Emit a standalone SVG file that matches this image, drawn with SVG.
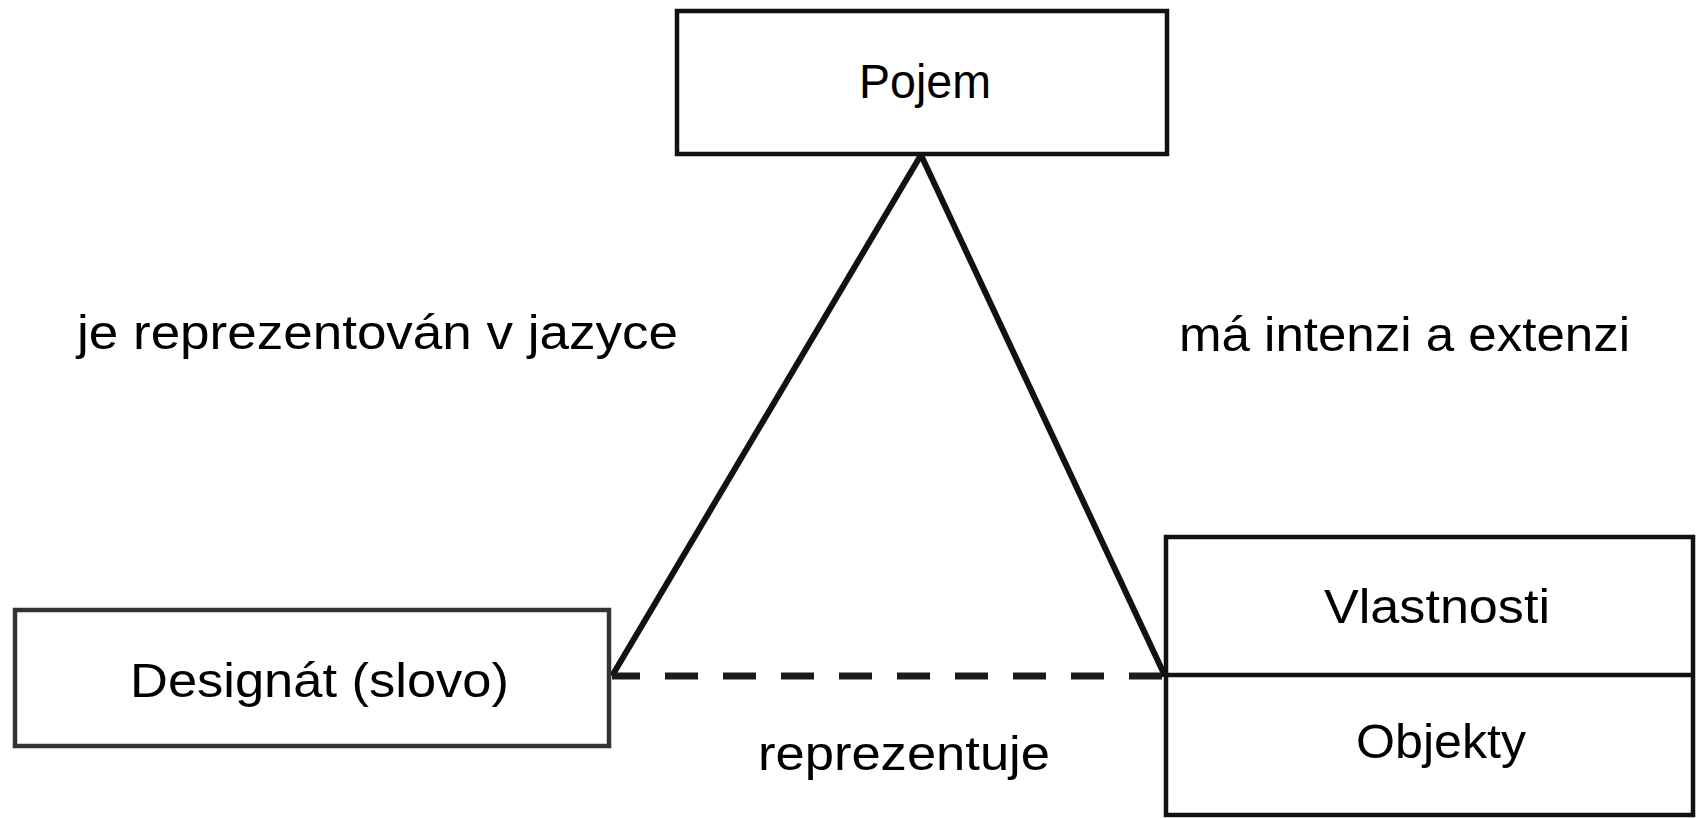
<svg xmlns="http://www.w3.org/2000/svg" width="1699" height="818" viewBox="0 0 1699 818">
<style>
.box{fill:#fff;stroke:#111;stroke-width:4.5}
.lbl{font-family:"Liberation Sans",Arial,sans-serif;font-size:48px;fill:#000}
.edge{stroke:#111;stroke-width:6;fill:none}
.dash{stroke:#1a1a1a;stroke-width:7;stroke-dasharray:33 25;stroke-dashoffset:5;fill:none}
</style>
<rect width="1699" height="818" fill="#fff"/>
<g id="connectors">
<line class="edge" x1="921" y1="155" x2="612" y2="676"/>
<line class="edge" x1="921" y1="155" x2="1165" y2="676"/>
<line class="dash" x1="612" y1="676" x2="1165" y2="676"/>
</g>
<g id="pojem">
<rect class="box" x="677" y="11" width="490" height="143"/>
<text class="lbl" x="859" y="98" textLength="132" lengthAdjust="spacingAndGlyphs">Pojem</text>
</g>
<g id="designat">
<rect class="box" x="15" y="610" width="594" height="136" style="stroke:#333"/>
<text class="lbl" x="130" y="697" textLength="379" lengthAdjust="spacingAndGlyphs">Designát (slovo)</text>
</g>
<g id="objekt">
<rect class="box" x="1166" y="537" width="527" height="278"/>
<line x1="1166" y1="675" x2="1693" y2="675" stroke="#111" stroke-width="4.5"/>
<text class="lbl" x="1324" y="623" textLength="226" lengthAdjust="spacingAndGlyphs">Vlastnosti</text>
<text class="lbl" x="1356" y="758" textLength="170" lengthAdjust="spacingAndGlyphs">Objekty</text>
</g>
<g id="labels">
<text class="lbl" x="77" y="349" textLength="601" lengthAdjust="spacingAndGlyphs">je reprezentován v jazyce</text>
<text class="lbl" x="1179" y="351" textLength="451" lengthAdjust="spacingAndGlyphs">má intenzi a extenzi</text>
<text class="lbl" x="758" y="770" textLength="292" lengthAdjust="spacingAndGlyphs">reprezentuje</text>
</g>
</svg>
